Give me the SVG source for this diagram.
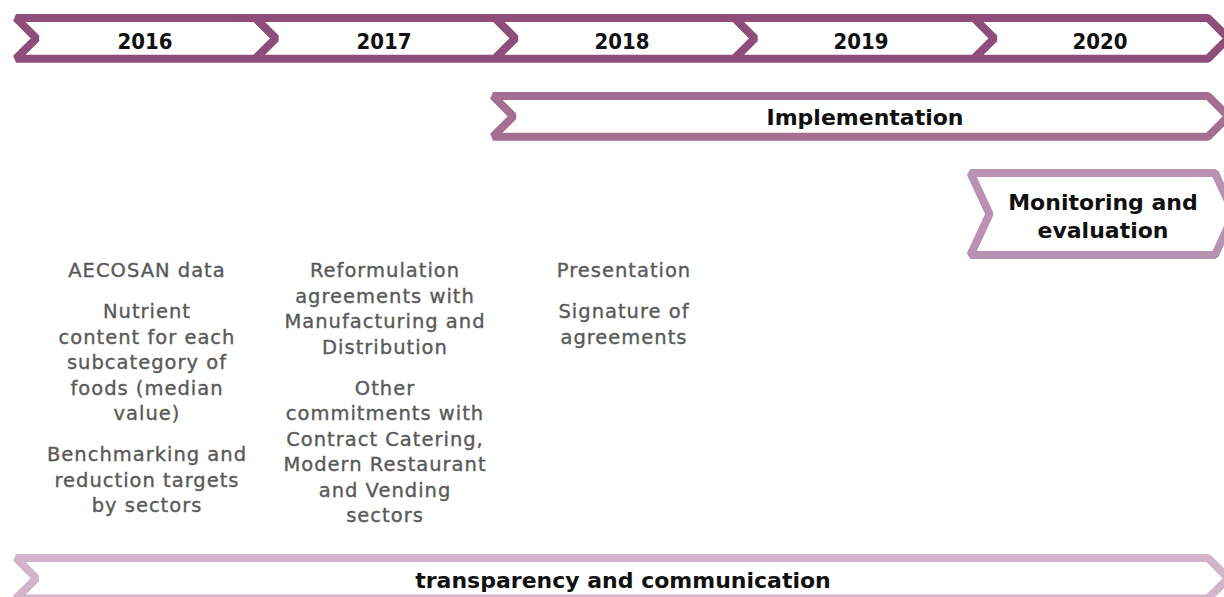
<svg xmlns="http://www.w3.org/2000/svg" width="1224" height="597" viewBox="0 0 1224 597">
<style>
.chev{fill:#fff;stroke-width:8;stroke-linejoin:bevel}
.yr{stroke:#8F4D7A}
.impl{stroke:#A46F92}
.mon{stroke:#B991B2}
.tra{stroke:#D2B4CB}
.hd{font-family:"DejaVu Sans",sans-serif;font-weight:bold;font-size:22px;fill:#111;text-anchor:middle}
.bd{font-family:"DejaVu Sans",sans-serif;font-size:19.5px;letter-spacing:1px;fill:#595959;stroke:#595959;stroke-width:0.35px;text-anchor:middle}
</style>
<rect width="1224" height="597" fill="#fff"/>
<g id="year-2016">
<path class="chev yr" d="M16,18 L255.5,18 L275.85,38.35 L255.5,58.7 L16,58.7 L36.35,38.35 Z"/>
<text class="hd" x="145" y="49" textLength="55" lengthAdjust="spacingAndGlyphs">2016</text>
</g>
<g id="year-2017">
<path class="chev yr" d="M255.5,18 L495,18 L515.35,38.35 L495,58.7 L255.5,58.7 L275.85,38.35 Z"/>
<text class="hd" x="384" y="49" textLength="55" lengthAdjust="spacingAndGlyphs">2017</text>
</g>
<g id="year-2018">
<path class="chev yr" d="M495,18 L734.5,18 L754.85,38.35 L734.5,58.7 L495,58.7 L515.35,38.35 Z"/>
<text class="hd" x="622" y="49" textLength="55" lengthAdjust="spacingAndGlyphs">2018</text>
</g>
<g id="year-2019">
<path class="chev yr" d="M734.5,18 L974,18 L994.35,38.35 L974,58.7 L734.5,58.7 L754.85,38.35 Z"/>
<text class="hd" x="861" y="49" textLength="55" lengthAdjust="spacingAndGlyphs">2019</text>
</g>
<g id="year-2020">
<path class="chev yr" d="M974,18 L1208,18 L1228.35,38.35 L1208,58.7 L974,58.7 L994.35,38.35 Z"/>
<text class="hd" x="1100" y="49" textLength="55" lengthAdjust="spacingAndGlyphs">2020</text>
</g>
<g id="implementation">
<path class="chev impl" d="M493,96 L1208,96 L1228.35,116.35 L1208,136.7 L493,136.7 L513.35,116.35 Z"/>
<text class="hd" x="865" y="125">Implementation</text>
</g>
<g id="monitoring">
<path class="chev mon" d="M970.5,173 L1215,173 L1234,214 L1215,255 L970.5,255 L989.5,214 Z"/>
<text class="hd" x="1103" y="210">Monitoring and</text>
<text class="hd" x="1103" y="238">evaluation</text>
</g>
<g id="transparency">
<path class="chev tra" d="M16,558 L1208,558 L1228.3,578.3 L1208,598.6 L16,598.6 L36.3,578.3 Z"/>
<text class="hd" x="623" y="588">transparency and communication</text>
</g>
<g id="col-2016">
<text class="bd" x="147" y="277">AECOSAN data</text>
<text class="bd" x="147" y="318">Nutrient</text>
<text class="bd" x="147" y="343.5">content for each</text>
<text class="bd" x="147" y="369">subcategory of</text>
<text class="bd" x="147" y="394.5">foods (median</text>
<text class="bd" x="147" y="420">value)</text>
<text class="bd" x="147" y="461">Benchmarking and</text>
<text class="bd" x="147" y="486.5">reduction targets</text>
<text class="bd" x="147" y="512">by sectors</text>
</g>
<g id="col-2017">
<text class="bd" x="385" y="277">Reformulation</text>
<text class="bd" x="385" y="302.5">agreements with</text>
<text class="bd" x="385" y="328">Manufacturing and</text>
<text class="bd" x="385" y="353.5">Distribution</text>
<text class="bd" x="385" y="394.5">Other</text>
<text class="bd" x="385" y="420">commitments with</text>
<text class="bd" x="385" y="445.5">Contract Catering,</text>
<text class="bd" x="385" y="471">Modern Restaurant</text>
<text class="bd" x="385" y="496.5">and Vending</text>
<text class="bd" x="385" y="522">sectors</text>
</g>
<g id="col-2018">
<text class="bd" x="624" y="277">Presentation</text>
<text class="bd" x="624" y="318">Signature of</text>
<text class="bd" x="624" y="343.5">agreements</text>
</g>
<g id="connectors"></g>
</svg>
